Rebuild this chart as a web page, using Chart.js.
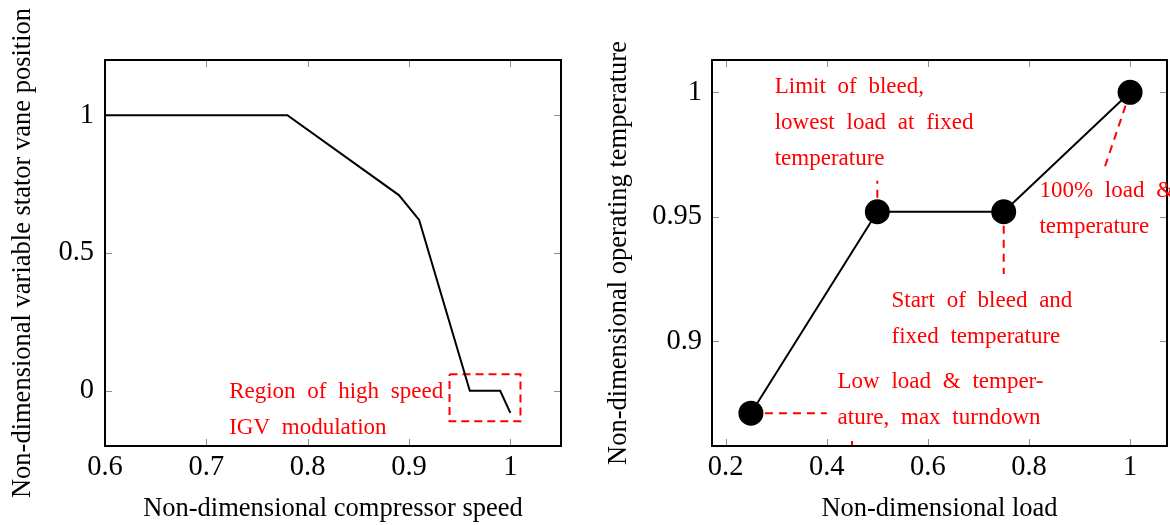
<!DOCTYPE html>
<html>
<head>
<meta charset="utf-8">
<script src="https://cdn.jsdelivr.net/npm/chart.js@4.4.1/dist/chart.umd.min.js"></script>
<style>
  html, body { margin: 0; padding: 0; background: #fff; }
  .wrap { position: absolute; top: 0; width: 585px; height: 525px; }
  #left { left: 0; }
  #right { left: 585px; }
</style>
</head>
<body>
<div class="wrap" id="left"><canvas id="speedChart" width="585" height="525"></canvas></div>
<div class="wrap" id="right"><canvas id="loadChart" width="585" height="525"></canvas></div>
<script>
// ---- compressor speed vs IGV position ----
const speedX = [0.6, 0.78, 0.89, 0.91, 0.96, 0.99, 1.0];
const vaneY = [1, 1, 0.71, 0.62, 0, 0, -0.08];
const speedTicks = [0.6, 0.7, 0.8, 0.9, 1];
const vaneTicks = [0, 0.5, 1];
// dashed box round the high speed region
const boxX = [0.94, 1.01, 1.01, 0.94, 0.94];
const boxY = [0.06, 0.06, -0.11, -0.11, 0.06];

// ---- load vs operating temperature ----
const loadX = [0.25, 0.5, 0.75, 1];
const tempY = [0.871, 0.952, 0.952, 1];
const loadTicks = [0.2, 0.4, 0.6, 0.8, 1];
const tempTicks = [0.9, 0.95, 1];
// leader lines from the notes to the points
const leaderLimit = [[0.5, 0.952], [0.5, 0.9645]];
const leaderStart = [[0.75, 0.952], [0.75, 0.927]];
const leaderFull = [[1, 1], [0.95, 0.97]];
const leaderLow = [[0.25, 0.871], [0.4, 0.871]];
const leaderTurn = [[0.45, 0.8598], [0.45, 0.857]];

const SERIF = "'Liberation Serif', 'Times New Roman', serif";
const RED = '#ff0000';

const zip = (xs, ys) => xs.map((x, i) => ({ x: x, y: ys[i] }));
const pairs = arr => arr.map(p => ({ x: p[0], y: p[1] }));

function dashed(points) {
    return {
        data: points,
        showLine: true,
        borderColor: RED,
        borderWidth: 2,
        borderDash: [8, 6],
        pointRadius: 0,
        fill: false
    };
}

// grey tick marks inside the frame, on all four sides
const innerTicks = {
    id: 'innerTicks',
    beforeDatasetsDraw(chart) {
        const { ctx, chartArea: a, scales } = chart;
        const len = 7;
        ctx.save();
        ctx.strokeStyle = '#8f8f8f';
        ctx.lineWidth = 1;
        ctx.beginPath();
        scales.x.ticks.forEach(t => {
            const px = Math.round(scales.x.getPixelForValue(t.value)) + 0.5;
            ctx.moveTo(px, a.bottom); ctx.lineTo(px, a.bottom - len);
            ctx.moveTo(px, a.top); ctx.lineTo(px, a.top + len);
        });
        scales.y.ticks.forEach(t => {
            const py = Math.round(scales.y.getPixelForValue(t.value)) + 0.5;
            ctx.moveTo(a.left, py); ctx.lineTo(a.left + len, py);
            ctx.moveTo(a.right, py); ctx.lineTo(a.right - len, py);
        });
        ctx.stroke();
        ctx.restore();
    }
};

// black frame plus red notes
const frameAndNotes = {
    id: 'frameAndNotes',
    afterDatasetsDraw(chart, args, opts) {
        const { ctx, chartArea: a, scales } = chart;
        ctx.save();
        ctx.strokeStyle = '#000';
        ctx.lineWidth = 2;
        ctx.strokeRect(a.left, a.top, a.right - a.left, a.bottom - a.top);

        ctx.fillStyle = RED;
        ctx.font = '23px ' + SERIF;
        ctx.textAlign = 'left';
        ctx.textBaseline = 'alphabetic';
        if ('wordSpacing' in ctx) ctx.wordSpacing = '6px';
        (opts.notes || []).forEach(n => {
            const px = scales.x.getPixelForValue(n.x);
            const py = scales.y.getPixelForValue(n.y);
            n.lines.forEach((line, i) => {
                ctx.fillText(line, px, py + i * 36);
            });
        });
        ctx.restore();
    }
};

function axis(min, max, tickVals, title, fit) {
    return {
        type: 'linear',
        min: min,
        max: max,
        afterBuildTicks: s => { s.ticks = tickVals.map(v => ({ value: v })); },
        afterFit: fit,
        grid: { display: false, drawTicks: false },
        border: { display: false },
        ticks: {
            color: '#000',
            font: { family: SERIF, size: 28.5 },
            autoSkip: false,
            maxRotation: 0,
            padding: 4,
            callback: v => String(v)
        },
        title: {
            display: true,
            text: title,
            color: '#000',
            font: { family: SERIF, size: 26.5 },
            padding: { top: 0, bottom: 0 }
        }
    };
}

function baseOptions(xScale, yScale, notes, rightPad) {
    return {
        responsive: false,
        animation: false,
        devicePixelRatio: 1,
        layout: {
            autoPadding: false,
            padding: { top: 60, right: rightPad, bottom: 0, left: 0 }
        },
        plugins: {
            legend: { display: false },
            tooltip: { enabled: false },
            frameAndNotes: { notes: notes }
        },
        scales: { x: xScale, y: yScale }
    };
}

// left chart
const speedXAxis = axis(0.6, 1.05, speedTicks, 'Non-dimensional compressor speed',
    s => { s.height = 79; });
const vaneAxis = axis(-0.2, 1.2, vaneTicks, 'Non-dimensional variable stator vane position',
    s => { s.width = 105; });
vaneAxis.ticks.padding = 11;
vaneAxis.title.padding = { top: 7, bottom: 0 };

new Chart(document.getElementById('speedChart'), {
    type: 'scatter',
    data: {
        datasets: [
            {
                data: zip(speedX, vaneY),
                showLine: true,
                borderColor: '#000',
                borderWidth: 2,
                pointRadius: 0,
                fill: false
            },
            Object.assign(dashed(zip(boxX, boxY)), { borderDash: [8, 5] })
        ]
    },
    options: baseOptions(speedXAxis, vaneAxis, [
        { x: 0.7225, y: -0.025, lines: ['Region of high speed', 'IGV modulation'] }
    ], 24),
    plugins: [innerTicks, frameAndNotes]
});

// right chart
const loadAxis = axis(0.173, 1.073, loadTicks, 'Non-dimensional load',
    s => { s.height = 79; });
const tempAxis = axis(0.8578, 1.013, tempTicks, 'Non-dimensional operating temperature',
    s => { s.width = 127; });
tempAxis.ticks.padding = 10;
tempAxis.title.padding = { top: 18, bottom: 0 };

new Chart(document.getElementById('loadChart'), {
    type: 'scatter',
    data: {
        datasets: [
            {
                data: zip(loadX, tempY),
                showLine: true,
                borderColor: '#000',
                borderWidth: 2,
                pointRadius: 11.5,
                pointBackgroundColor: '#000',
                pointBorderColor: '#000',
                fill: false
            },
            dashed(pairs(leaderLimit)),
            dashed(pairs(leaderStart)),
            dashed(pairs(leaderFull)),
            dashed(pairs(leaderLow)),
            dashed(pairs(leaderTurn))
        ]
    },
    options: baseOptions(loadAxis, tempAxis, [
        { x: 0.297, y: 0.9996, lines: ['Limit of bleed,', 'lowest load at fixed', 'temperature'] },
        { x: 0.528, y: 0.9136, lines: ['Start of bleed and', 'fixed temperature'] },
        { x: 0.8206, y: 0.9578, lines: ['100% load &', 'temperature'] },
        { x: 0.4213, y: 0.8811, lines: ['Low load & temper-', 'ature, max turndown'] }
    ], 3),
    plugins: [innerTicks, frameAndNotes]
});
</script>
</body>
</html>
